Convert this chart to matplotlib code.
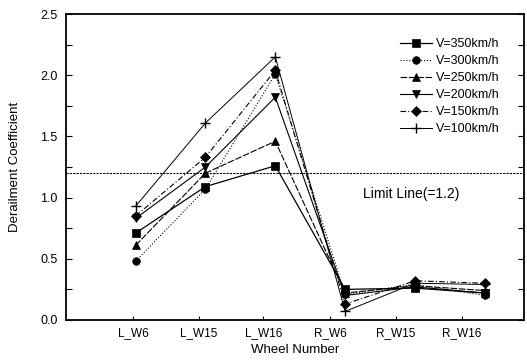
import matplotlib.pyplot as plt
from matplotlib.ticker import MultipleLocator

plt.rcParams['font.family'] = ['Liberation Sans', 'DejaVu Sans']

# wheels along the train, left and right sides
wheels = ['L_W6', 'L_W15', 'L_W16', 'R_W6', 'R_W15', 'R_W16']
wheel_ticks = [0.96, 1.90, 2.83, 3.79, 4.73, 5.67]

speeds = ['V=350km/h', 'V=300km/h', 'V=250km/h', 'V=200km/h', 'V=150km/h', 'V=100km/h']
v350 = [0.71, 1.09, 1.26, 0.25, 0.26, 0.22]
v300 = [0.48, 1.07, 2.01, 0.21, 0.29, 0.20]
v250 = [0.61, 1.20, 1.46, 0.22, 0.28, 0.24]
v200 = [0.83, 1.25, 1.82, 0.20, 0.27, 0.22]
v150 = [0.85, 1.33, 2.04, 0.13, 0.32, 0.30]
v100 = [0.93, 1.61, 2.15, 0.07, 0.30, 0.29]

limit = 1.2

series = [v350, v300, v250, v200, v150, v100]
markers = ['s', 'o', '^', 'v', 'D', '+']
styles = ['-', ':', (0, (6, 1.5)), '-', (0, (5, 2, 1, 2)), '-']
widths = [0.9, 0.8, 0.8, 0.8, 0.8, 0.7]
msizes = [5.5, 5.5, 6, 6, 5, 7]

fig = plt.figure(figsize=(5.27, 3.64), dpi=100)
ax = fig.add_axes([0.125, 0.121, 0.869, 0.8405])

x = range(1, len(wheels) + 1)
for vals, lab, m, ls, lw, ms in zip(series, speeds, markers, styles, widths, msizes):
    ax.plot(x, vals, color='black', linestyle=ls, linewidth=lw, marker=m,
            markersize=ms, markeredgewidth=1.0 if m == '+' else 0.5, label=lab)

ax.axhline(limit, color='black', linestyle=(0, (2, 1)), linewidth=0.8)
ax.text(4.94, 1.03, 'Limit Line(=%.1f)' % limit, ha='center', va='center', fontsize=10)

ax.set_xlim(0, 6.56)
ax.set_ylim(0, 2.5)
ax.set_xticks(wheel_ticks)
ax.set_xticklabels(wheels, fontsize=8.5)
ax.yaxis.set_major_locator(MultipleLocator(0.5))
ax.yaxis.set_minor_locator(MultipleLocator(0.25))
ax.yaxis.set_major_formatter(plt.FormatStrFormatter('%.1f'))
ax.tick_params(axis='y', which='both', direction='in', right=True, labelsize=9,
               length=4, width=0.8, pad=6)
ax.tick_params(axis='x', direction='in', length=3, width=0.8, pad=5)

for sp in ax.spines.values():
    sp.set_linewidth(1.3)

ax.set_xlabel('Wheel Number', fontsize=9.5, labelpad=4)
ax.set_ylabel('Derailment Coefficient', fontsize=9.5, labelpad=14)

ax.legend(loc='upper right', bbox_to_anchor=(0.966, 0.95), frameon=False,
          fontsize=9, handlelength=2.6, handletextpad=0.3, labelspacing=0.4,
          borderpad=0.2)

fig.savefig('out.png', dpi=100)
